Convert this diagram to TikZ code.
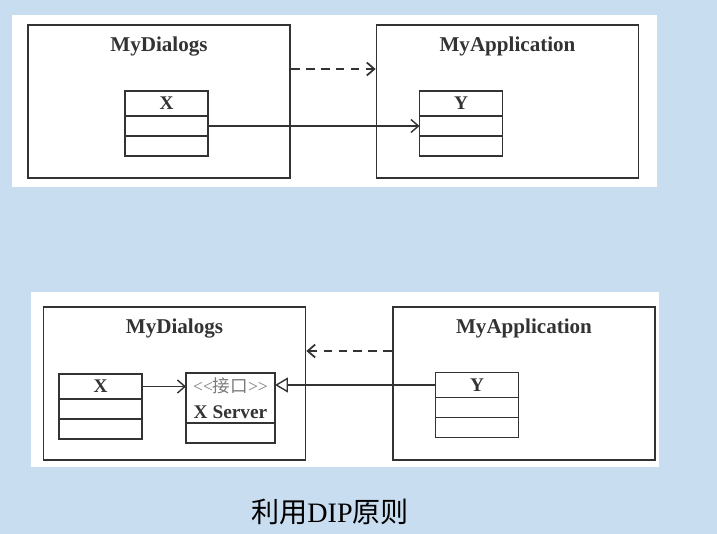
\documentclass[tikz,border=0pt]{standalone}
\usepackage{fontspec}
\setmainfont{Liberation Serif}
\newfontfamily\cjk{Noto Sans CJK SC}
\usepackage{tikz}
\usetikzlibrary{positioning, arrows.meta}
\definecolor{dipbg}{HTML}{C9DDF1}
\definecolor{dipline}{HTML}{333333}
\definecolor{dipgray}{HTML}{7A7A7A}

\begin{document}
\begin{tikzpicture}[
        x=0.02cm, y=-0.02cm,
        pkg/.style={
          draw=dipline, line width=1pt, fill=white,
          minimum width=5.24cm, minimum height=3.06cm,
        },
        title/.style={
          font=\fontsize{12}{14}\selectfont\bfseries, text=dipline,
        },
        hdr/.style={
          draw=dipline, line width=1pt, outer sep=0pt,
          minimum width=1.66cm, minimum height=0.5cm, inner sep=0pt,
          font=\fontsize{11}{13}\selectfont\bfseries, text=dipline,
        },
        cmp/.style={
          draw=dipline, line width=1pt, outer sep=0pt,
          minimum width=1.66cm, minimum height=0.4cm, inner sep=0pt,
        },
        assoc/.style={
          -{Straight Barb[length=0.15cm, width=0.26cm]},
          draw=dipline, line width=0.8pt,
        },
        dep/.style={
          assoc, dashed, dash pattern=on 5pt off 3.5pt, line width=1pt,
        },
        impl/.style={
          -{Triangle[open, fill=white, length=0.26cm, width=0.3cm]},
          draw=dipline, line width=0.8pt,
        },
      ]
      \fill[dipbg] (0,0) rectangle (717,534);
      \fill[white] (12,15) rectangle (657,187);
      \fill[white] (31,292) rectangle (659,467);

      % upper: direct dependency
      \node[pkg] (d1) at (159,101.5) {};
      \node[pkg] (a1) at (507.5,101.5) {};
      \node[title, below=0.13cm of d1.north] {MyDialogs};
      \node[title, below=0.13cm of a1.north] {MyApplication};

      \node[hdr] (x1h) at (166.5,103.5) {X};
      \node[cmp, below=0pt of x1h] (x1a) {};
      \node[cmp, below=0pt of x1a] (x1b) {};
      \node[hdr] (y1h) at (461,103.5) {Y};
      \node[cmp, below=0pt of y1h] (y1a) {};
      \node[cmp, below=0pt of y1a] (y1b) {};

      \draw[dep] ([yshift=0.65cm]d1.east) -- ([yshift=0.65cm]a1.west);
      \draw[assoc] (x1a.east) -- (y1a.west);

      % lower: with DIP
      \node[pkg] (d2) at (174.5,383.5) {};
      \node[pkg] (a2) at (524,383.5) {};
      \node[title, below=0.13cm of d2.north] {MyDialogs};
      \node[title, below=0.13cm of a2.north] {MyApplication};

      \node[hdr] (x2h) at (100.5,386.5) {X};
      \node[cmp, below=0pt of x2h] (x2a) {};
      \node[cmp, below=0pt of x2a] (x2b) {};
      \node[hdr, minimum width=1.78cm, minimum height=1cm, align=center]
        (ifh) at (230.5,398)
        {{\mdseries\fontsize{10}{12}\selectfont\color{dipgray}{<}{<}{\cjk 接口}{>}{>}}\\[2pt]X Server};
      \node[cmp, minimum width=1.78cm, below=0pt of ifh] (ifa) {};
      \node[hdr] (y2h) at (477,385) {Y};
      \node[cmp, below=0pt of y2h] (y2a) {};
      \node[cmp, below=0pt of y2a] (y2b) {};

      \draw[dep] ([yshift=0.65cm]a2.west) -- ([yshift=0.65cm]d2.east);
      \draw[assoc] (x2h.east) -- (x2h.east -| ifh.west);
      \draw[impl] (y2h.west) -- (y2h.west -| ifh.east);

      \node[font=\fontsize{16}{19}\selectfont] (cap) at (330,512)
        {{\cjk 利用}DIP{\cjk 原则}};
    \end{tikzpicture}
\end{document}
